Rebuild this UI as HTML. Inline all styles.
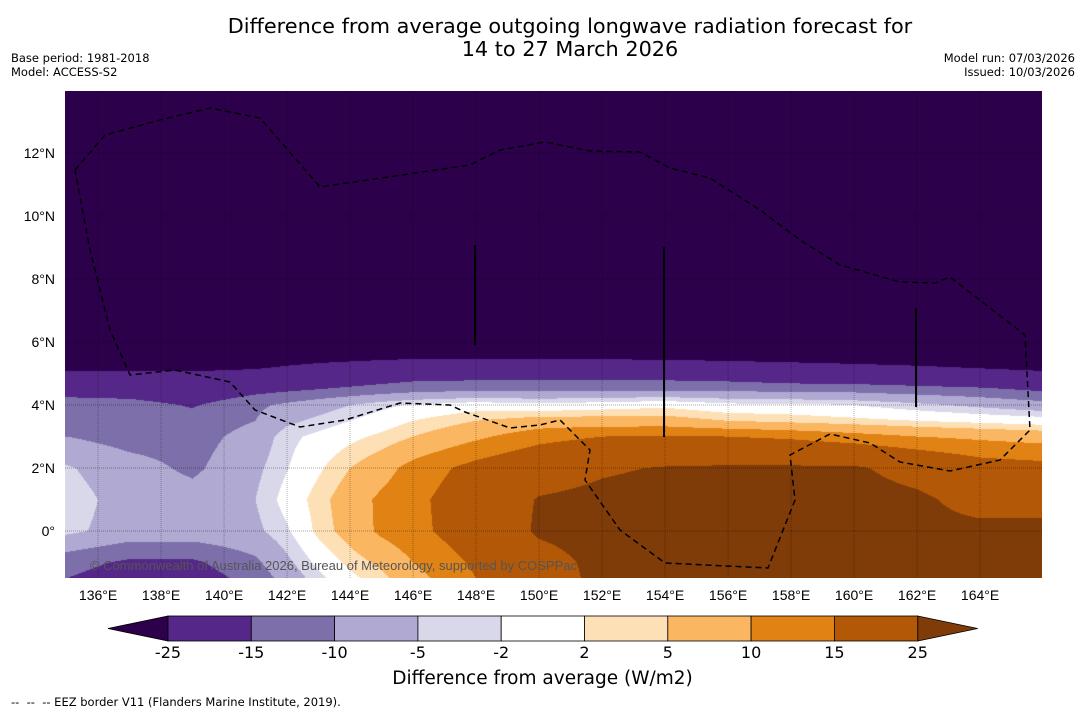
<!DOCTYPE html>
<html><head><meta charset="utf-8">
<style>
body{margin:0;width:1085px;height:713px;background:#fff;font-family:"DejaVu Sans","Liberation Sans",sans-serif;position:relative;overflow:hidden}
.t{position:absolute;white-space:nowrap;color:#000}
</style></head><body>
<div class="t" style="left:0;width:1140px;text-align:center;top:15px;font-size:20.8px;line-height:23px">Difference from average outgoing longwave radiation forecast for<br>14 to 27 March 2026</div>
<div class="t" style="left:11px;top:51px;font-size:11.5px;line-height:14px">Base period: 1981-2018<br>Model: ACCESS-S2</div>
<div class="t" style="right:10px;top:51px;font-size:11.5px;line-height:14px;text-align:right">Model run: 07/03/2026<br>Issued: 10/03/2026</div>
<canvas id="cv" width="977" height="487" style="position:absolute;left:65px;top:91px"></canvas>
<svg id="sv" width="1085" height="713" style="position:absolute;left:0;top:0"></svg>
<div class="t" style="left:90px;top:558px;font-size:13px;color:#555;font-family:'Liberation Sans',sans-serif">© Commonwealth of Australia 2026, Bureau of Meteorology, supported by COSPPac</div>
<div class="t" style="left:0;width:1085px;text-align:center;top:668px;font-size:18.5px">Difference from average (W/m2)</div>
<div class="t" style="left:11px;top:695px;font-size:11.5px">-- &nbsp;-- &nbsp;-- EEZ border V11 (Flanders Marine Institute, 2019).</div>
<script>
const lons=[135,137,139,141,142,143,144,145,146,148,150,152,154,156,158,160,162,164,166];
const lats=[14,5.5,5,4.5,4,3.5,3,2,1,0,-1,-1.5];
const row14=[-35,-35,-35,-35,-35,-35,-35,-35,-35,-35,-35,-35,-35,-35,-35,-35,-35,-35,-35];
const row55=[-31,-31,-31,-30,-28,-27,-26.5,-26,-25.6,-25.5,-25.5,-25.7,-26,-26.5,-27,-27.5,-28,-29,-30];
const row5=[-24,-24,-24,-23,-22,-21,-20,-19,-18,-18,-18,-18,-18,-19,-20,-21,-22,-23,-24];
const row45=[-17,-18,-20,-17,-16,-15,-14,-13,-12,-11,-11,-11,-11,-11,-12,-12,-13,-14,-16];
const row4=[-13,-13,-15.5,-11,-9,-7,-5,-3,-1.5,0,-1,0,1,-1,-1,-2,-4,-6,-8];
const row35=[-11,-12,-13,-10,-6,-4,-2,0,2,5,7,7,7,5,4,3,2,1,0];
const row3=[-10,-12,-12,-8,-3,-1,1,2.8,5,9,13,15,15.5,15,14,12,10,9,8];
const row2=[-4.5,-8,-11,-6,-2.2,1.4,5,8,11.8,17,21,24,25.5,26,26,26,22,18,17];
const row1=[-3,-7,-8,-5,-0.5,3.5,7.6,11,13.5,19,25.5,27,28,28,28,28,26.5,22,22];
const row0=[-4,-7,-7,-6,-2.5,3,7,11,13.3,18.7,26,28,28,28,28,28,27,27,27];
const rowm1=[-13,-16,-16,-11,-6,-1,3,6,10,16,22,27,28,28,28,27,27,27,27];
const rowm15=[-15,-18,-18,-13,-8,-3,1,4,8,15,21,27,28,28,28,27,27,27,27];
const grid=[row14,row55,row5,row45,row4,row35,row3,row2,row1,row0,rowm1,rowm15];
const levels=[-25,-15,-10,-5,-2,2,5,10,15,25];
const colors=['#2d004b','#542788','#7d70aa','#b0aad2','#d8d8ea','#ffffff','#fde0b6','#fbb662','#e08214','#b35806','#7f3b08'];
const xTicks=[136,138,140,142,144,146,148,150,152,154,156,158,160,162,164];
const yTicks=[0,2,4,6,8,10,12];
const L0=65,T0=91,W=977,H=487,PPD=31.5,LON0=134.95,LATTOP=13.97;
const xs=lon=>L0+(lon-LON0)*PPD, ys=lat=>T0+(LATTOP-lat)*PPD;
function seg(arr,v){for(let i=0;i<arr.length-1;i++){const a=arr[i],b=arr[i+1];if((v>=a&&v<=b)||(v<=a&&v>=b))return [i,b===a?0:(v-a)/(b-a)];}return v<arr[0]===(arr[0]<arr[arr.length-1])?[0,0]:[arr.length-2,1];}
function val(lon,lat){const [i,fx]=seg(lons,lon);const [j,fy]=seg(lats,lat);
 const a=grid[j][i],b=grid[j][i+1],c=grid[j+1][i],d=grid[j+1][i+1];
 return (a*(1-fx)+b*fx)*(1-fy)+(c*(1-fx)+d*fx)*fy;}
function rgb(h){return [parseInt(h.slice(1,3),16),parseInt(h.slice(3,5),16),parseInt(h.slice(5,7),16)];}
const crgb=colors.map(rgb);
const cv=document.getElementById('cv'),ctx=cv.getContext('2d'),img=ctx.createImageData(W,H);
for(let y=0;y<H;y++){const lat=LATTOP-(y+0.5)/PPD;for(let x=0;x<W;x++){const lon=LON0+(x+0.5)/PPD;const v=val(lon,lat);let k=0;while(k<levels.length&&v>levels[k])k++;const c=crgb[k];const p=(y*W+x)*4;img.data[p]=c[0];img.data[p+1]=c[1];img.data[p+2]=c[2];img.data[p+3]=255;}}
ctx.putImageData(img,0,0);
const NS='http://www.w3.org/2000/svg',sv=document.getElementById('sv');
function mk(t,a,txt){const e=document.createElementNS(NS,t);for(const k in a)e.setAttribute(k,a[k]);if(txt!==undefined)e.textContent=txt;sv.appendChild(e);return e;}
xTicks.forEach(lon=>{const x=xs(lon);
 const g=mk('line',{x1:x,x2:x,y1:T0,y2:T0+H,stroke:'#000','stroke-opacity':0.3,'stroke-width':1,'stroke-dasharray':'1 1'});
 
 
 const t=mk('text',{x:x,y:600,'font-size':14,'text-anchor':'middle','font-family':'Liberation Sans, sans-serif'},lon+'°E');
 
 });
yTicks.forEach(lat=>{const y=ys(lat);
 const g=mk('line',{x1:L0,x2:L0+W,y1:y,y2:y,stroke:'#000','stroke-opacity':0.35,'stroke-width':1,'stroke-dasharray':'1 1'});
 
 
 const t=mk('text',{x:55,y:y+5,'font-size':14,'text-anchor':'end','font-family':'Liberation Sans, sans-serif'},lat===0?'0°':lat+'°N');
 
 });
const eez=[[75,170],[105,135],[160,120],[210,108],[260,118],[320,187],[470,165],[500,150],[545,142],[590,151],[640,152],[670,168],[710,178],[760,210],[800,240],[840,265],[900,282],[935,283],[950,277],[1025,335],[1030,430],[1000,460],[950,471],[900,462],[870,443],[830,434],[790,455],[795,500],[768,568],[665,563],[620,530],[585,480],[590,450],[560,420],[540,425],[510,428],[465,412],[450,405],[400,403],[345,420],[300,427],[255,410],[230,382],[175,370],[130,375],[110,330],[90,250],[75,170]];
const e=mk('path',{d:'M'+eez.map(p=>p.join(',')).join(' L'),fill:'none',stroke:'#000','stroke-width':1.5,'stroke-dasharray':'6 4'});


[[475,245,345],[664,247,437],[916,308,407]].forEach(l=>{const v=mk('line',{x1:l[0],x2:l[0],y1:l[1],y2:l[2],stroke:'#000','stroke-width':2});
 
 });
const cbX=168,cbW=83.3,cbY=616,cbH=25;
const lt=mk('polygon',{points:`108,${cbY+cbH/2} ${cbX},${cbY} ${cbX},${cbY+cbH}`,fill:colors[0],stroke:'#000','stroke-width':0.8});


const rx=cbX+cbW*9;
const rt=mk('polygon',{points:`${rx},${cbY} ${rx+60},${cbY+cbH/2} ${rx},${cbY+cbH}`,fill:colors[10],stroke:'#000','stroke-width':0.8});


for(let i=0;i<9;i++){const r=mk('rect',{x:cbX+i*cbW,y:cbY,width:cbW,height:cbH,fill:colors[i+1],stroke:'#000','stroke-width':0.8});
 
 }
levels.forEach((lv,i)=>{const t=mk('text',{x:cbX+i*cbW,y:658,'font-size':16,'text-anchor':'middle','font-family':'DejaVu Sans, sans-serif'},String(lv));
 
 });
</script>
</body></html>
